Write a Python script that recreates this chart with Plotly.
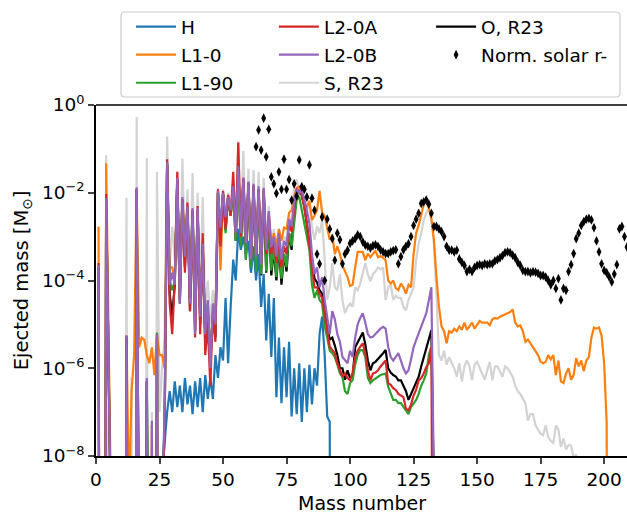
import plotly.graph_objects as go

Z = 1e-30  # effectively zero (below the axis)

# ---------------- data ----------------
A_BLUE = list(range(25, 94))
M_H = [Z, 3e-9, 2e-8, 1e-7, 3e-7, 1e-7, 5e-7, 1.3e-7, 4e-7, 1e-7,
       6e-7, 1.5e-7, 4e-7, 9e-8, 5e-7, 1.3e-7, 6e-7, 1e-7, 7e-7, 2e-7,
       6e-7, 2e-7, 2e-6, 6e-7, 3e-6, 1.5e-6, 4e-5, 1.3e-6, 2.5e-5, 3e-4,
       1e-4, 1.5e-3, 5e-4, 1e-3, 4e-4, 8e-4, 1.5e-4, 6e-4, 1e-4, 4e-4,
       2.5e-5, 1.4e-4, 4.3e-6, 5e-5, 1.8e-6, 4e-5, 2.2e-7, 5e-6, 1.6e-7, 3e-6,
       2.2e-7, 4e-6, 8e-8, 1e-6, 9e-8, 1.3e-6, 6e-8, 1e-6, 1e-7, 1.2e-6,
       1.5e-7, 1e-6, 4e-7, 6e-6, 1.5e-5, 2e-6, 8e-8, 6e-8, Z]

A_L10 = list(range(1, 203))
M_L10 = [1.7e-3, Z, Z, 0.047, Z, Z, Z, Z, Z, Z,
         Z, 5.6e-6, 1e-9, 3e-7, 2e-6, 0.012, 3e-6, 5e-6, 4.5e-6, 2e-6,
         1.3e-6, 3e-6, 7e-7, 6e-6, 2e-6, 2e-6, 1e-6, 0.04, 2e-4, 2e-4,
         1e-4, 0.02, 5e-5, 7e-3, 1e-3, 5e-3, 4e-5, 4e-3, 1e-5, 4e-3,
         1.5e-5, 7e-4, 1e-5, 2e-5, 3e-6, 1.6e-5, 1e-5, 0.01, 1.7e-4, 9e-3,
         1.5e-3, 8e-3, 3e-3, 0.013, 1e-3, 0.035, 1e-3, 0.02, 5e-4, 0.016,
         2.5e-4, 0.014, 3e-4, 0.012, 2e-4, 0.012, 4e-4, 3.5e-3, 6e-4, 1.2e-3,
         6e-4, 1.5e-3, 8e-4, 1.6e-3, 1.5e-3, 3.5e-3, 4e-3, 8e-3, 0.013, 0.0137,
         0.01, 5.5e-3, 4.8e-3, 6.5e-3, 2.4e-3, 3e-3, 4e-3, 0.011, 3.5e-3, 3e-3,
         1.7e-3, 8.5e-4, 1.1e-3, 4e-4, 6e-4, 4e-4, 2.2e-4, 1.6e-4, 1.2e-4, 7.5e-5,
         8e-5, 2e-4, 4.5e-4, 4.5e-4, 4.5e-4, 2.9e-4, 4.1e-4, 3.4e-4, 4e-4, 4.8e-4,
         3.4e-4, 3.6e-4, 3.3e-4, 2.9e-4, 1e-4, 8.5e-5, 1e-4, 6.7e-5, 6e-5, 8.5e-5,
         7e-5, 5e-5, 8e-5, 7e-5, 4e-4, 1.2e-3, 1.8e-3, 3e-3, 5.5e-3, 6.2e-3,
         4.5e-3, 2.6e-3, 8.5e-4, 1.2e-4, 2.5e-5, 9e-6, 7e-6, 3.7e-6, 7e-6, 6.5e-6,
         8e-6, 7e-6, 9e-6, 7.5e-6, 1.1e-5, 7.5e-6, 9e-6, 1.1e-5, 8e-6, 9.5e-6,
         1.2e-5, 1.1e-5, 1.1e-5, 1.1e-5, 9.5e-6, 1.3e-5, 1.4e-5, 1.35e-5, 1.5e-5, 1.6e-5,
         1.75e-5, 1.8e-5, 1.9e-5, 2.2e-5, 1.1e-5, 9e-6, 9.5e-6, 7e-6, 4e-6, 4.5e-6,
         3.7e-6, 3e-6, 2.6e-6, 2e-6, 1.4e-6, 1.3e-6, 1.4e-6, 2e-6, 1.6e-6, 2e-6,
         7e-7, 1.5e-6, 5e-7, 4.6e-7, 7.5e-7, 1e-6, 5.5e-7, 7e-7, 1.7e-6, 1.1e-6,
         1.5e-6, 8.5e-7, 1.5e-6, 1.8e-6, 5e-6, 8.5e-6, 8e-6, 8.5e-6, 5.5e-6, 1.3e-6,
         6e-8, Z]

A_L2 = list(range(1, 135))
M_L190 = [2e-4, Z, Z, 7e-3, Z, Z, Z, Z, Z, Z,
          Z, 5e-6, Z, Z, Z, 0.011, Z, Z, Z, 5e-7,
          Z, Z, Z, 6.5e-6, Z, 1e-9, 5e-8, 0.045, 1e-4, 6e-5,
          1e-4, 0.02, 5e-5, 7e-3, 3e-4, 5e-3, 4e-5, 4e-3, 1e-5, 4e-3,
          1.5e-5, 6e-4, 7e-6, 3e-5, 2e-6, 1.5e-5, 8e-6, 0.01, 1.2e-3, 0.01,
          1.2e-3, 8e-3, 3e-3, 0.012, 8e-4, 0.035, 6e-4, 0.02, 3e-4, 0.016,
          2e-4, 0.014, 1.6e-4, 0.012, 1.4e-4, 0.011, 1.6e-4, 2.5e-3, 1.7e-4, 6e-4,
          1.2e-4, 7e-4, 1.1e-4, 4e-4, 2e-4, 1.2e-3, 6e-4, 2e-3, 7e-3, 8e-3,
          4e-3, 2e-3, 1e-3, 5e-4, 8e-5, 4e-5, 6e-5, 3.6e-5, 3e-5, 9e-6,
          5e-6, 2.5e-6, 2.2e-6, 1.8e-6, 1.2e-6, 7.6e-7, 6.4e-7, 3e-7, 2.6e-7, 4.6e-7,
          5.3e-7, 1.2e-6, 2e-6, 2.6e-6, 2.6e-6, 1.8e-6, 6e-7, 4.6e-7, 5.3e-7, 5.8e-7,
          6.4e-7, 7e-7, 7.3e-7, 7.6e-7, 3.8e-7, 2.6e-7, 1.9e-7, 1.9e-7, 1.6e-7, 1.6e-7,
          1.3e-7, 1.1e-7, 9e-8, 1.3e-7, 1.6e-7, 1.9e-7, 2.6e-7, 4e-7, 5.3e-7, 7.6e-7,
          2e-6, 3.1e-6, 1e-9, Z]

M_L20A = [2.5e-4, Z, Z, 9.3e-3, Z, Z, Z, Z, Z, Z,
          Z, 5.5e-6, Z, Z, Z, 0.012, Z, Z, Z, 5e-7,
          Z, 5e-8, Z, 5e-6, Z, 1e-9, 3e-8, 0.058, 3e-5, 6e-6,
          1e-4, 0.03, 3.6e-5, 7e-3, 1.5e-4, 6e-3, 2e-5, 4e-3, 5e-6, 5e-3,
          6e-6, 1.2e-3, 2e-6, 1e-5, 4e-7, 2e-5, 4e-6, 0.012, 6e-4, 0.011,
          1.5e-3, 9e-3, 3e-3, 0.03, 1.2e-3, 0.14, 1e-3, 0.022, 7e-4, 0.017,
          3e-4, 0.015, 4e-4, 0.012, 2.5e-4, 0.012, 4e-4, 3e-3, 4e-4, 8e-4,
          2.5e-4, 9e-4, 2e-4, 6e-4, 4e-4, 2e-3, 1.3e-3, 4e-3, 0.012, 0.011,
          9e-3, 4.5e-3, 2e-3, 6e-4, 2e-4, 7e-5, 7e-5, 5e-5, 4e-5, 1.8e-5,
          7e-6, 3.1e-6, 2.6e-6, 2.2e-6, 1.3e-6, 9e-7, 6.4e-7, 7.6e-7, 6e-7, 5.3e-7,
          8e-7, 1.8e-6, 2.5e-6, 3.1e-6, 3.7e-6, 2.2e-6, 9e-7, 5.3e-7, 7.6e-7, 8e-7,
          9e-7, 1.1e-6, 1.3e-6, 1.5e-6, 4.6e-7, 4.2e-7, 3.5e-7, 3.2e-7, 2.6e-7, 2.4e-7,
          2.2e-7, 1.2e-7, 1.1e-7, 1.5e-7, 2.4e-7, 3.2e-7, 5.3e-7, 6e-7, 7.6e-7, 1.07e-6,
          1.3e-6, 3.1e-6, 1e-9, Z]

M_L20B = [2.2e-4, Z, Z, 7.6e-3, Z, Z, Z, Z, Z, Z,
          Z, 5.6e-6, Z, Z, Z, 0.0134, Z, Z, Z, 6e-7,
          Z, 6.4e-8, Z, 6e-6, Z, 1e-9, 1e-7, 0.05, 8e-5, 1.5e-4,
          8e-5, 0.022, 3e-5, 8e-3, 3.5e-4, 5e-3, 3e-5, 4.5e-3, 6e-6, 4.5e-3,
          1.5e-5, 7e-4, 6e-6, 3.6e-5, 1e-6, 3e-5, 1e-5, 0.011, 1.6e-3, 0.01,
          2.8e-3, 8e-3, 4e-3, 0.014, 1.2e-3, 0.04, 1.2e-3, 0.022, 7e-4, 0.018,
          3e-4, 0.016, 3.5e-4, 0.014, 2.3e-4, 0.013, 5e-4, 3.8e-3, 5.7e-4, 1e-3,
          3.5e-4, 1.2e-3, 3e-4, 8e-4, 6e-4, 2.5e-3, 1.7e-3, 6e-3, 0.012, 0.01,
          0.012, 6.8e-3, 4e-3, 2e-3, 4e-4, 1.4e-4, 2e-4, 7e-5, 1.2e-4, 3.6e-5,
          1.5e-5, 6e-6, 2e-5, 1.3e-5, 6e-6, 4e-6, 1.8e-6, 1.5e-6, 1.3e-6, 2.5e-6,
          1.8e-6, 5e-6, 1e-5, 1.4e-5, 1.8e-5, 1.1e-5, 6e-6, 5e-6, 5.2e-6, 6e-6,
          7e-6, 8e-6, 8.8e-6, 8e-6, 3.1e-6, 1.8e-6, 1.5e-6, 1.8e-6, 2.2e-6, 1.5e-6,
          1e-6, 7.6e-7, 9e-7, 1.6e-6, 3e-6, 4.4e-6, 6.2e-6, 9e-6, 1.2e-5, 1.8e-5,
          3.5e-5, 7e-5, 2e-9, Z]

M_OR23 = [2e-4, Z, Z, 7e-3, Z, Z, Z, Z, Z, Z,
          Z, 5e-6, Z, Z, Z, 0.012, Z, Z, Z, 5e-7,
          Z, Z, Z, 6e-6, Z, 1e-9, 5e-8, 0.045, 5e-5, 1.5e-5,
          8e-5, 0.02, 3e-5, 7e-3, 2e-4, 5e-3, 2e-5, 4e-3, 7e-6, 4e-3,
          1e-5, 6e-4, 4e-6, 2e-5, 1.5e-6, 1.5e-5, 5e-6, 0.01, 1.2e-3, 9e-3,
          1.4e-3, 8e-3, 3e-3, 0.012, 8e-4, 0.035, 6e-4, 0.02, 3e-4, 0.016,
          1.8e-4, 0.014, 1.5e-4, 0.012, 1.3e-4, 0.011, 1.5e-4, 2.5e-3, 1.3e-4, 5e-4,
          1e-4, 6e-4, 8e-5, 4e-4, 1.6e-4, 1.2e-3, 5e-4, 6e-3, 0.012, 0.01,
          9e-3, 5e-3, 2e-3, 7e-4, 2.5e-4, 1.1e-4, 9e-5, 6e-5, 5e-5, 2e-5,
          9e-6, 4.5e-6, 5e-6, 3.3e-6, 2e-6, 1e-6, 1e-6, 5.5e-7, 9e-7, 6e-7,
          6.4e-7, 3e-6, 4e-6, 5e-6, 6.5e-6, 3.5e-6, 1.5e-6, 9e-7, 1.3e-6, 1.4e-6,
          1.6e-6, 1.9e-6, 2.2e-6, 2.6e-6, 1e-6, 8e-7, 7e-7, 6.5e-7, 5.3e-7, 5.3e-7,
          4e-7, 3e-7, 1.9e-7, 2.6e-7, 3.5e-7, 5e-7, 6.4e-7, 1.1e-6, 1.8e-6, 3.1e-6,
          5e-6, 7.4e-6, 1e-9, Z]

A_SR23 = list(range(1, 191))
M_SR23 = [Z, Z, Z, 0.072, Z, Z, Z, Z, Z, Z,
          Z, 7.7e-3, Z, 6.2e-7, Z, 0.54, Z, Z, Z, 0.062,
          Z, 1e-7, Z, 0.03, 1e-7, 1e-6, 5e-6, 0.19, 2e-4, 1.7e-3,
          3e-4, 0.03, 1e-4, 0.06, 5e-4, 0.012, 1e-4, 0.028, 2e-5, 0.01,
          5e-5, 8e-3, 2e-5, 1e-4, 1e-5, 6e-5, 1.5e-5, 0.013, 2e-3, 0.012,
          3e-3, 0.01, 4e-3, 0.02, 1.5e-3, 0.15, 1.5e-3, 0.09, 8e-4, 0.035,
          4e-4, 0.033, 4e-4, 0.03, 3e-4, 0.022, 6e-4, 5e-3, 7e-4, 1.5e-3,
          5e-4, 1.5e-3, 4e-4, 1e-3, 8e-4, 3e-3, 2e-3, 0.016, 0.02, 0.01,
          6.8e-3, 8e-3, 4e-3, 6e-3, 1.7e-3, 8.5e-4, 1.7e-3, 1.2e-3, 2.4e-3, 3e-4,
          3.6e-5, 7e-5, 2.5e-4, 7e-5, 6e-5, 1.4e-4, 3.6e-5, 1.8e-5, 2.5e-5, 3e-5,
          2.5e-5, 7e-5, 6e-5, 8.5e-5, 1.4e-4, 2.5e-4, 1.4e-4, 9.5e-5, 1.4e-4, 1.6e-4,
          2e-4, 1.8e-4, 2e-4, 3.6e-5, 7e-5, 8e-5, 3.6e-5, 4.5e-5, 4e-5, 4e-5,
          2.5e-5, 2.1e-5, 3.6e-5, 5e-5, 7e-5, 2.9e-4, 7e-4, 1.2e-3, 2.4e-3, 3.4e-3,
          4.5e-3, 2.5e-3, 7e-4, 5e-5, 2e-6, 1.5e-6, 2.5e-6, 1.2e-6, 1.8e-6, 1.3e-6,
          1e-6, 6.4e-7, 1.3e-6, 5e-7, 1.1e-6, 1.5e-6, 1.1e-6, 5.3e-7, 1.2e-6, 1.4e-6,
          1e-6, 7e-7, 5.5e-7, 9e-7, 1.4e-6, 5.3e-7, 1.1e-6, 1.1e-6, 8e-7, 6.4e-7,
          1.1e-6, 1e-6, 8e-7, 6.4e-7, 4e-7, 3e-7, 2.6e-7, 2e-7, 1.6e-7, 6.4e-8,
          9e-8, 9e-8, 5e-8, 4e-8, 3.2e-8, 3e-8, 5e-8, 2.7e-8, 2.2e-8, 2e-8,
          5e-8, 4e-8, 1.6e-8, 2.5e-8, 1.4e-8, 1.8e-8, 1.7e-8, 9e-9, 1.1e-8, Z]

A_SOLAR = list(range(63, 210))
M_SOLAR = [0.112, 0.27, 0.094, 0.5, 0.066, 0.28, 0.023, 0.016, 0.0097, 0.03,
           0.012, 0.058, 0.012, 0.02, 6.8e-3, 0.016, 8.4e-3, 0.056, 0.0137, 0.012,
           8e-3, 0.043, 7.5e-3, 4e-3, 4e-4, 2.4e-4, 2.8e-3, 1e-4, 2.5e-3, 1.5e-3,
           9e-4, 2.9e-4, 1.2e-3, 8.5e-4, 2.4e-4, 4e-4, 4.9e-4, 7e-4, 8e-4, 9e-4,
           1.1e-3, 1e-3, 7.6e-4, 6.4e-4, 6e-4, 5.5e-4, 6.2e-4, 6.5e-4, 6e-4, 5e-4,
           4.5e-4, 4.1e-4, 4.1e-4, 4.5e-4, 4.8e-4, 5e-4, 2.4e-4, 3.5e-4, 5e-4, 6e-4,
           6.9e-4, 1e-3, 1.8e-3, 2.5e-3, 3.4e-3, 5.7e-3, 6.2e-3, 6.8e-3, 5.5e-3, 3.4e-3,
           1.7e-3, 1.7e-3, 1.5e-3, 1.3e-3, 1e-3, 6e-4, 4.9e-4, 4.9e-4, 4.5e-4, 4.9e-4,
           3.1e-4, 2.6e-4, 2.2e-4, 1.6e-4, 1.8e-4, 1.6e-4, 2e-4, 2.2e-4, 2.3e-4, 2.2e-4,
           2.4e-4, 2.3e-4, 2.4e-4, 2.4e-4, 2.8e-4, 3e-4, 3.3e-4, 3.7e-4, 4.3e-4, 4.5e-4,
           4.3e-4, 3.8e-4, 3.3e-4, 2.6e-4, 2.2e-4, 1.7e-4, 1.6e-4, 1.6e-4, 1.5e-4, 1.6e-4,
           1.55e-4, 1.45e-4, 1.3e-4, 1.3e-4, 1.2e-4, 1e-4, 8e-5, 1e-4, 6.6e-5, 1.1e-4,
           3.6e-5, 6.6e-5, 6e-5, 1.6e-4, 2.3e-4, 4.1e-4, 9e-4, 1.2e-3, 1.8e-3, 2.2e-3,
           2.5e-3, 2.6e-3, 2.4e-3, 1.6e-3, 8e-4, 4.5e-4, 2.4e-4, 1.7e-4, 1.5e-4, 1.2e-4,
           9.3e-5, 1.4e-4, 2.3e-4, 1.5e-3, 1.7e-3, 1e-3, 5.8e-4]

X_TICKS = [0, 25, 50, 75, 100, 125, 150, 175, 200]
Y_TICKS = [1e-8, 1e-6, 1e-4, 1e-2, 1]
Y_TICK_TEXT = ["10<sup>−8</sup>", "10<sup>−6</sup>", "10<sup>−4</sup>",
               "10<sup>−2</sup>", "10<sup>0</sup>"]

# ---------------- figure ----------------
FONT = "DejaVu Sans"
FS = 18.5
LW = 2.2

fig = go.Figure()

def line(x, y, name, color, legend, rank):
    fig.add_trace(go.Scatter(x=x, y=y, mode="lines", name=name,
                             line=dict(color=color, width=LW),
                             legend=legend, legendrank=rank, legendgroup=name))

# drawing order (bottom to top); legend order is set by legendrank
line(A_SR23, M_SR23, "S, R23", "#d3d3d3", "legend2", 3)
line(A_L2, M_OR23, "O, R23", "#000000", "legend3", 1)
line(A_BLUE, M_H, "H", "#1f77b4", "legend", 1)
line(A_L10, M_L10, "L1-0", "#ff7f0e", "legend", 2)
line(A_L2, M_L190, "L1-90", "#2ca02c", "legend", 3)
line(A_L2, M_L20A, "L2-0A", "#d62728", "legend2", 1)
line(A_L2, M_L20B, "L2-0B", "#9467bd", "legend2", 2)
fig.add_trace(go.Scatter(x=A_SOLAR, y=M_SOLAR, mode="markers", name="Norm. solar r-",
                         marker=dict(symbol="diamond-tall", size=7, color="black"),
                         legend="legend3", legendrank=2, legendgroup="solar"))

leg_common = dict(bgcolor="rgba(0,0,0,0)", borderwidth=0, orientation="v",
                  xanchor="left", yanchor="top", itemwidth=40,
                  tracegroupgap=1, font=dict(family=FONT, size=FS, color="black"))

LEG_Y = 1.276
fig.update_layout(
    width=627, height=513,
    margin=dict(l=96, r=0, t=105, b=57, autoexpand=False),
    paper_bgcolor="white", plot_bgcolor="white",
    font=dict(family=FONT, size=FS, color="black"),
    legend=dict(x=0.066, y=LEG_Y, **leg_common),
    legend2=dict(x=0.335, y=LEG_Y, **leg_common),
    legend3=dict(x=0.631, y=LEG_Y, **leg_common),
    xaxis=dict(range=[0, 209], tickvals=X_TICKS, ticks="outside", ticklen=6,
               tickwidth=1.5, showline=True, linecolor="black", linewidth=1.5,
               showgrid=False, zeroline=False, automargin=False),
    yaxis=dict(type="log", range=[-8, 0], tickvals=Y_TICKS, ticktext=Y_TICK_TEXT,
               ticks="outside", ticklen=6, tickwidth=1.5, showline=True,
               linecolor="black", linewidth=1.5, showgrid=False, zeroline=False,
               automargin=False,
               title=dict(text="Ejected mass [M<sub>⊙</sub>]", standoff=8,
                          font=dict(family=FONT, size=19.5, color="black"))),
    annotations=[
        dict(text="Mass number", xref="paper", yref="paper", x=0.5, y=-0.134,
             xanchor="center", yanchor="middle", showarrow=False,
             font=dict(family=FONT, size=19, color="black")),
    ],
    shapes=[
        dict(type="line", xref="paper", yref="paper", x0=0, x1=1, y0=1, y1=1,
             line=dict(color="black", width=1.5)),
        dict(type="path", xref="paper", yref="paper", xsizemode="pixel",
             ysizemode="pixel", xanchor=0, yanchor=1,
             path="M 29,93 L 520,93 Q 524,93 524,89 L 524,12 Q 524,8 520,8 "
                  "L 29,8 Q 25,8 25,12 L 25,89 Q 25,93 29,93 Z",
             line=dict(color="#cccccc", width=1.2),
             fillcolor="rgba(255,255,255,0.8)"),
    ],
)

fig.write_html("out.html",
               config={"displayModeBar": False},
               post_script="document.body.style.margin='0';"
                           "document.body.style.overflow='hidden';")
